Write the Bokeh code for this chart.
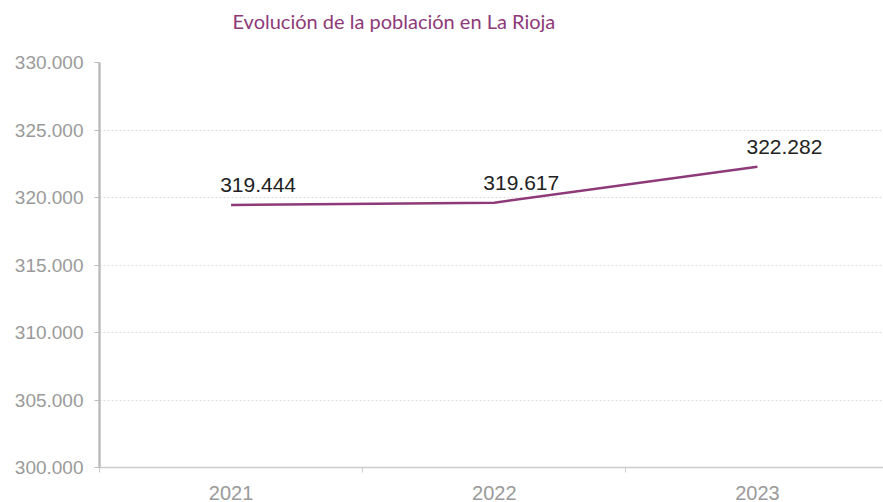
from bokeh.plotting import figure
from bokeh.models import Range1d, FixedTicker, ColumnDataSource
from bokeh.core.properties import value
from bokeh.embed import file_html
from bokeh.resources import INLINE

title_text = "Evolución de la población en La Rioja"
years = ["2021", "2022", "2023"]
population = [319444, 319617, 322282]
point_labels = ["319.444", "319.617", "322.282"]
y_ticks = [300000, 305000, 310000, 315000, 320000, 325000, 330000]
y_tick_labels = ["300.000", "305.000", "310.000", "315.000", "320.000", "325.000", "330.000"]

xs = list(range(len(years)))
src = ColumnDataSource(dict(x=xs, y=population, lbl=point_labels))

p = figure(width=883, height=502, output_backend="svg", toolbar_location=None,
           x_range=Range1d(-0.5, 2.479), y_range=Range1d(300000, 330000),
           min_border_left=99, min_border_top=58, min_border_bottom=31, min_border_right=0)
p.outline_line_color = None
p.background_fill_color = "white"

# trailing empty line lifts the title higher above the frame
p.title.text = title_text + "\n"
p.title.text_font = "Lato"
p.title.text_font_size = "20px"
p.title.text_font_style = "normal"
p.title.text_color = "#8e3a78"
p.title.align = "left"
p.title.offset = 133
p.title.standoff = 12

p.line("x", "y", source=src, line_color="#8e3a78", line_width=2.5)
p.text("x", "y", text="lbl", source=src, x_offset=27, y_offset=-20,
       text_align="center", text_baseline="middle", text_color="#222222",
       text_font=value("Liberation Sans"), text_font_size="21px")

# y axis
p.yaxis.ticker = FixedTicker(ticks=y_ticks, minor_ticks=[])
p.yaxis.major_label_overrides = {t: l for t, l in zip(y_ticks, y_tick_labels)}
p.yaxis.axis_line_color = "#bdbdbd"
p.yaxis.axis_line_width = 2.5
p.yaxis.major_tick_line_color = "#bdbdbd"
p.yaxis.major_tick_out = 5
p.yaxis.major_tick_in = 0
p.yaxis.minor_tick_line_color = None
p.yaxis.major_label_text_color = "#9a9a9a"
p.yaxis.major_label_text_font = "Liberation Sans"
p.yaxis.major_label_text_font_size = "19px"
p.yaxis.major_label_standoff = 11

# x axis
p.xaxis.ticker = FixedTicker(ticks=xs, minor_ticks=[-0.5, 0.5, 1.5, 2.5])
p.xaxis.major_label_overrides = {i: y for i, y in zip(xs, years)}
p.xaxis.axis_line_color = "#cccccc"
p.xaxis.axis_line_width = 1.5
p.xaxis.major_tick_line_color = None
p.xaxis.minor_tick_line_color = "#cccccc"
p.xaxis.minor_tick_out = 5
p.xaxis.minor_tick_in = 0
p.xaxis.major_label_text_color = "#9a9a9a"
p.xaxis.major_label_text_font = "Liberation Sans"
p.xaxis.major_label_text_font_size = "20px"
p.xaxis.major_label_standoff = 12

p.xgrid.grid_line_color = None
p.ygrid.grid_line_color = "#dddddd"
p.ygrid.grid_line_dash = "2 2"
p.ygrid.grid_line_width = 1

open("out.html", "w").write(file_html(p, INLINE))
